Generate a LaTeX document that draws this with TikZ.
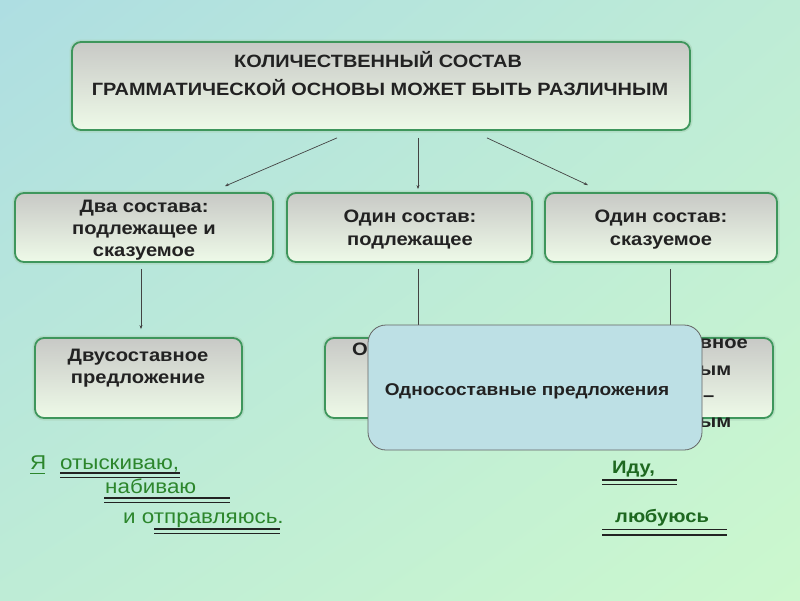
\documentclass[tikz,border=0pt]{standalone}
\usepackage{fontspec}
\setmainfont{Liberation Sans}[FakeStretch=1.12]
\usetikzlibrary{arrows.meta, positioning, calc, shadings}
\definecolor{colBgA}{RGB}{174,222,226}
\definecolor{colBgB}{RGB}{190,236,214}
\definecolor{colBgC}{RGB}{204,248,206}
\definecolor{colEdge}{RGB}{62,150,92}
\definecolor{colTop}{RGB}{200,201,198}
\definecolor{colBot}{RGB}{238,250,232}
\definecolor{colBlue}{RGB}{189,224,229}
\definecolor{colInk}{RGB}{34,34,34}
\definecolor{colVerb}{RGB}{44,134,44}
\definecolor{colVerbDark}{RGB}{30,104,32}

\begin{document}
\begin{tikzpicture}[
  x=1pt, y=-1pt,
  arr/.style={-{Stealth[length=4pt,width=3pt]}, colInk!85, line width=0.7pt},
  link/.style={colInk!85, line width=0.7pt},
  box/.style={draw=colEdge, line width=1.8pt, rounded corners=9pt,
              top color=colTop, bottom color=colBot, inner sep=0pt,
              preaction={draw=colEdge!45, line width=5pt, opacity=0.5}},
  overlay/.style={draw=colInk!70, line width=0.8pt, rounded corners=18pt,
                  fill=colBlue, inner sep=0pt},
  lbl/.style={anchor=base, inner sep=0pt, text=colInk,
              font=\fontsize{18}{21}\selectfont\bfseries},
  head/.style={lbl, font=\fontsize{17.8}{21}\selectfont\bfseries},
  verb/.style={anchor=base west, inner sep=0pt, text=colVerb,
               font=\fontsize{20}{23}\selectfont},
  uline/.style={colInk, line width=1.7pt},
]
% Background
\shade[upper left=colBgA, upper right=colBgB, lower left=colBgB, lower right=colBgC]
  (0,0) rectangle (800,600);

% Boxes
\node[box, minimum width=618pt, minimum height=88pt] (title) at (381,86) {};
\node[box, minimum width=258pt, minimum height=69pt] (two) at (144,227.5) {};
\node[box, minimum width=245pt, minimum height=69pt] (subj) at (409.5,227.5) {};
\node[box, minimum width=232pt, minimum height=69pt] (pred) at (661,227.5) {};
\node[box, minimum width=207pt, minimum height=80pt] (dvu) at (138.5,378) {};
\node[box, minimum width=186pt, minimum height=80pt] (hidL) at (418,378) {};
\node[box, minimum width=206pt, minimum height=80pt] (hidR) at (670,378) {};

% Texts in boxes
\node[head] (t1) at (378,67) {КОЛИЧЕСТВЕННЫЙ СОСТАВ};
\node[head] (t2) at (380,95) {ГРАММАТИЧЕСКОЙ ОСНОВЫ МОЖЕТ БЫТЬ РАЗЛИЧНЫМ};
\node[lbl] (two1) at (144,212) {Два состава:};
\node[lbl] (two2) at (144,234) {подлежащее и};
\node[lbl] (two3) at (144,256) {сказуемое};
\node[lbl] (subj1) at (410,222) {Один состав:};
\node[lbl] (subj2) at (410,245) {подлежащее};
\node[lbl] (pred1) at (661,222) {Один состав:};
\node[lbl] (pred2) at (661,245) {сказуемое};
\node[lbl] (dvu1) at (138,361) {Двусоставное};
\node[lbl] (dvu2) at (138,383) {предложение};
\node[lbl, anchor=base west] (hidL1) at (352,355) {О};
\node[lbl, anchor=base east] (hidR1) at (748,348) {вное};
\node[lbl, anchor=base west] (hidR2) at (699,375) {ым};
\node[lbl, anchor=base west] (hidR3) at (703,401) {–};
\node[lbl, anchor=base west] (hidR4) at (699,427) {ым};

% Connectors
\draw[arr] ([xshift=-44pt,yshift=-7pt]title.south) -- ([xshift=81pt,yshift=6pt]two.north);
\draw[arr] ([xshift=37pt,yshift=-7pt]title.south) -- ([xshift=8.5pt,yshift=3pt]subj.north);
\draw[arr] ([xshift=106pt,yshift=-7pt]title.south) -- ([xshift=-73pt,yshift=7pt]pred.north);
\draw[arr] ([xshift=-3pt,yshift=-6pt]two.south) -- ([xshift=2.5pt,yshift=8pt]dvu.north);
\draw[link] ([xshift=8.5pt,yshift=-6pt]subj.south) -- (hidL.north);
\draw[link] ([xshift=9pt,yshift=-6pt]pred.south) -- (hidR.north);

% Covering box
\node[overlay, minimum width=334pt, minimum height=125pt] (one) at (535,387.5) {};
\node[lbl, font=\fontsize{17}{20}\selectfont\bfseries] (one1) at (527,395) {Односоставные предложения};

% Example sentences
\node[verb] (ya) at (30,469) {Я};
\draw[colVerb, line width=0.8pt] (30,473) -- (45,473);
\node[verb] (w1) at (60,469) {отыскиваю,};
\draw[uline] (60,473) -- (180,473);
\draw[uline] (60,477.5) -- (180,477.5);
\node[verb] (w2) at (105,493) {набиваю};
\draw[uline] (104,498) -- (230,498);
\draw[uline] (104,502.5) -- (230,502.5);
\node[verb] (w3) at (123,523) {и отправляюсь.};
\draw[uline] (154,529) -- (280,529);
\draw[uline] (154,533.5) -- (280,533.5);

\node[verb, text=colVerbDark, font=\fontsize{18}{22}\selectfont\bfseries] (w4) at (612,473) {Иду,};
\draw[uline] (602,480) -- (677,480);
\draw[uline] (602,484.5) -- (677,484.5);
\node[verb, text=colVerbDark, font=\fontsize{18}{22}\selectfont\bfseries] (w5) at (615,522) {любуюсь};
\draw[uline] (602,529.5) -- (727,529.5);
\draw[uline] (602,535) -- (727,535);
\end{tikzpicture}
\end{document}
